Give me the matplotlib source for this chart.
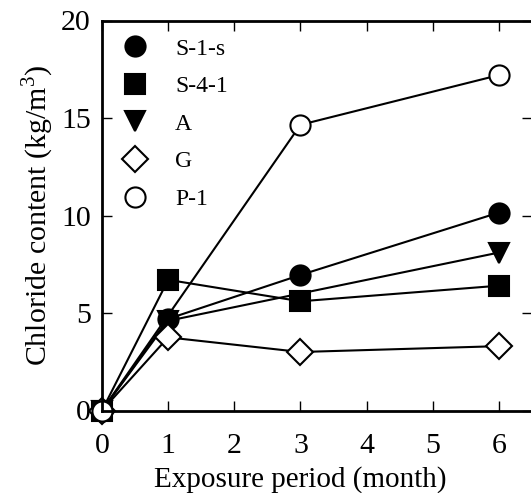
import matplotlib
matplotlib.use("Agg")
import numpy as np
import matplotlib.pyplot as plt
from matplotlib.lines import Line2D

plt.rcParams['font.family'] = ['Liberation Serif', 'DejaVu Serif']
plt.rcParams['mathtext.fontset'] = 'custom'
plt.rcParams['mathtext.rm'] = 'Liberation Serif'

# exposure period in months
months_s1s = [0, 1, 3, 6]
cl_s1s = [0, 4.7, 6.95, 10.15]

months_s41 = [0, 1, 3, 6]
cl_s41 = [0, 6.7, 5.6, 6.4]

months_a = [0, 1, 6]  # no marker at 3 months
cl_a = [0, 4.6, 8.1]

months_g = [0, 1, 3, 6]
cl_g = [0, 3.75, 3.0, 3.3]

months_p1 = [0, 3, 6]  # no marker at 1 month
cl_p1 = [0, 14.65, 17.2]

labels = ['S-1-s', 'S-4-1', 'A', 'G', 'P-1']

fig = plt.figure(figsize=(5.31, 4.93), dpi=100)
ax = fig.add_axes([102 / 531, 82.5 / 493, 430 / 531, 390 / 493])

lw = 1.5
ms = 14.5
kw = dict(lw=lw, mew=lw, mec='k', clip_on=False)
ax.plot(months_s1s, cl_s1s, 'k-', marker='o', ms=ms, mfc='k', **kw)
ax.plot(months_s41, cl_s41, 'k-', marker='s', ms=ms - 0.5, mfc='k', **kw)
ax.plot(months_a, cl_a, 'k-', marker='v', ms=ms, mfc='k', **kw)
ax.plot(months_g, cl_g, 'k-', marker='D', ms=ms - 1.5, mfc='w', **kw)
ax.plot(months_p1, cl_p1, 'k-', marker='o', ms=ms, mfc='w', **kw)

ax.set_xlim(0, 6.5)
ax.set_ylim(0, 20)
ax.set_xticks(range(0, 7))
ax.set_yticks([0, 5, 10, 15, 20])
ax.tick_params(direction='in', length=7, width=1, labelsize=21.5,
               top=True, right=True)
ax.tick_params(axis='x', pad=16)
ax.tick_params(axis='y', pad=8)
for s in ax.spines.values():
    s.set_linewidth(2)

ax.set_xlabel('Exposure period (month)', fontsize=21, va='center')
ax.xaxis.set_label_coords((300 - 102) / 430, -(480 - 410.5) / 390)
ax.set_ylabel('Chloride content (kg/m$^3$)', fontsize=21.5, labelpad=4)

handles = [
    Line2D([], [], ls='none', marker='o', ms=ms, mfc='k', mec='k', mew=lw),
    Line2D([], [], ls='none', marker='s', ms=ms - 0.5, mfc='k', mec='k', mew=lw),
    Line2D([], [], ls='none', marker='v', ms=ms, mfc='k', mec='k', mew=lw),
    Line2D([], [], ls='none', marker='D', ms=ms - 1.5, mfc='w', mec='k', mew=lw),
    Line2D([], [], ls='none', marker='o', ms=ms, mfc='w', mec='k', mew=lw),
]
ax.legend(handles, labels, loc='upper left', bbox_to_anchor=(0.049, 0.955),
          frameon=False, fontsize=17, handlelength=1.0, handletextpad=1.2,
          borderpad=0, borderaxespad=0, labelspacing=0.68)

fig.savefig('out.png', dpi=100)
